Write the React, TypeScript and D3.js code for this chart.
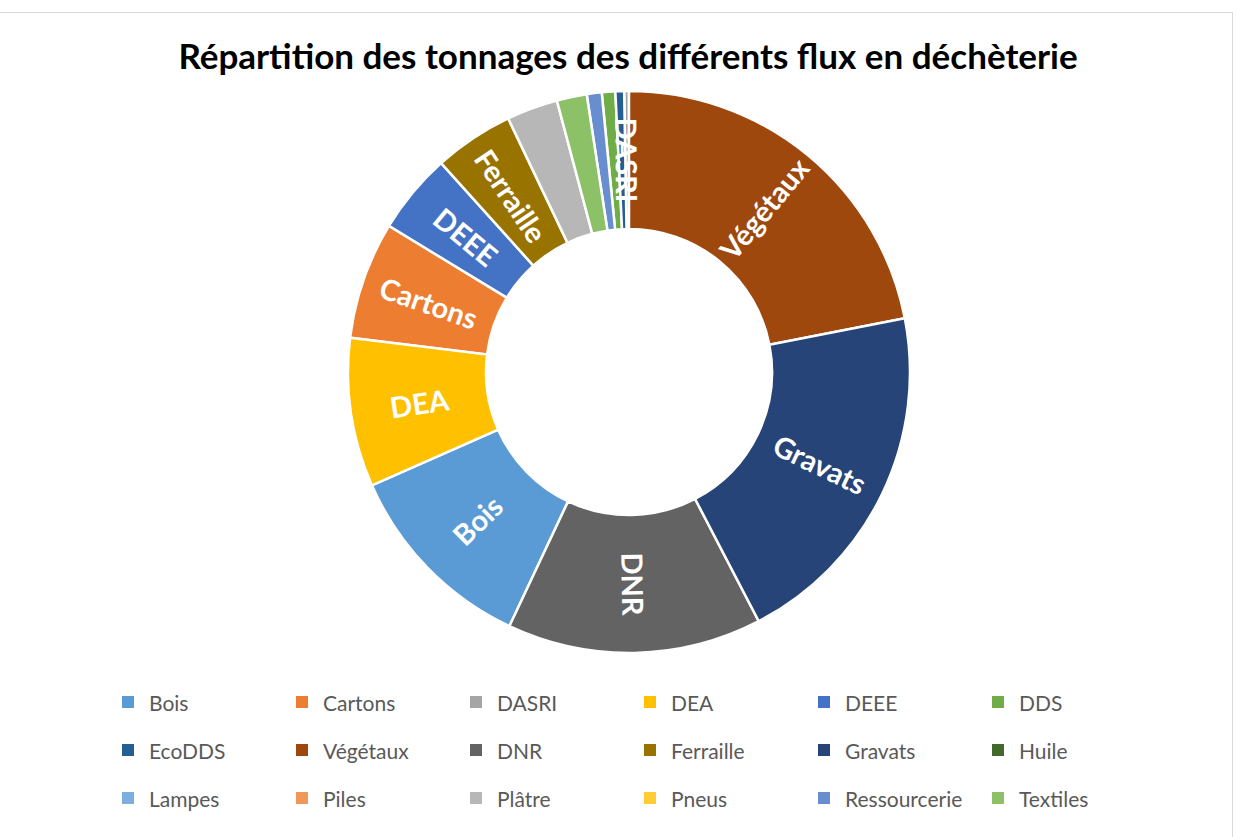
import React from "react";
import * as d3 from "d3";

const title = "Répartition des tonnages des différents flux en déchèterie";

const categories = [
  "Bois", "Cartons", "DASRI", "DEA", "DEEE", "DDS",
  "EcoDDS", "Végétaux", "DNR", "Ferraille", "Gravats", "Huile",
  "Lampes", "Piles", "Plâtre", "Pneus", "Ressourcerie", "Textiles",
];

const tonnages = [
  1367, 810, 33, 1027, 557, 93,
  60, 2633, 1757, 550, 2450, 0,
  0, 0, 353, 0, 103, 207,
];

const colors = [
  "#5B9BD5", "#ED7D31", "#A5A5A5", "#FFC000", "#4472C4", "#70AD47",
  "#255E91", "#9E480E", "#636363", "#997300", "#264478", "#43682B",
  "#7CAFDD", "#F1975A", "#B7B7B7", "#FFCD33", "#698ED0", "#8CC168",
];

// Slices that carry a visible label (as in the reference)
const labelled = ["Végétaux", "Gravats", "DNR", "Bois", "DEA", "Cartons", "DEEE", "Ferraille", "DASRI"];

export default function App() {
  const W = 1237;
  const H = 837;
  const cx = 629;
  const cy = 372;
  const rOuter = 281;
  const rInner = 143;

  const data = categories.map((c, i) => ({ name: c, value: tonnages[i], color: colors[i] }));
  const pie = d3.pie<any>().value((d: any) => d.value); // default: sorted descending
  const arcs = pie(data);
  const arc = d3.arc<any>().innerRadius(rInner).outerRadius(rOuter);
  const labelArc = d3.arc<any>().innerRadius((rInner + rOuter) / 2).outerRadius((rInner + rOuter) / 2);

  const legendX0 = 122;
  const legendDX = 174;
  const legendY0 = 702;
  const legendDY = 48;

  return (
    <svg width={W} height={H} style={{ position: "absolute", left: 0, top: 0 }}>
      <rect x={0} y={0} width={W} height={H} fill="#ffffff" />
      <rect x={-2} y={12.5} width={1234.5} height={H} fill="none" stroke="#d9d9d9" strokeWidth={1} />
      <text
        x={628}
        y={55}
        textAnchor="middle"
        dominantBaseline="central"
        fontFamily="Lato, 'Open Sans', sans-serif"
        fontWeight={700}
        fontSize={35}
        fill="#000000"
      >
        {title}
      </text>
      <g transform={`translate(${cx},${cy})`}>
        {arcs.map((a: any) =>
          a.data.value > 0 ? (
            <path key={a.data.name} d={arc(a) as string} fill={a.data.color} stroke="#ffffff" strokeWidth={2.5} />
          ) : null
        )}
        {arcs
          .filter((a: any) => labelled.includes(a.data.name))
          .map((a: any) => {
            const [lx, ly] = labelArc.centroid(a);
            const mid = ((a.startAngle + a.endAngle) / 2) * 180 / Math.PI;
            const rot = mid <= 180 ? mid - 90 : mid - 270;
            return (
              <text
                key={"l" + a.data.name}
                transform={`translate(${lx},${ly}) rotate(${rot})`}
                textAnchor="middle"
                dominantBaseline="central"
                fontFamily="Lato, 'Open Sans', sans-serif"
                fontWeight={700}
                fontSize={29}
                fill="#ffffff"
              >
                {a.data.name}
              </text>
            );
          })}
      </g>
      <g>
        {categories.map((c, i) => {
          const col = i % 6;
          const row = Math.floor(i / 6);
          const x = legendX0 + col * legendDX;
          const y = legendY0 + row * legendDY;
          return (
            <g key={"lg" + c} transform={`translate(${x},${y})`}>
              <rect x={0} y={-6} width={12} height={12} fill={colors[i]} />
              <text
                x={27}
                y={0}
                dominantBaseline="central"
                fontFamily="Lato, 'Open Sans', sans-serif"
                fontSize={21}
                fill="#595959"
              >
                {c}
              </text>
            </g>
          );
        })}
      </g>
    </svg>
  );
}
